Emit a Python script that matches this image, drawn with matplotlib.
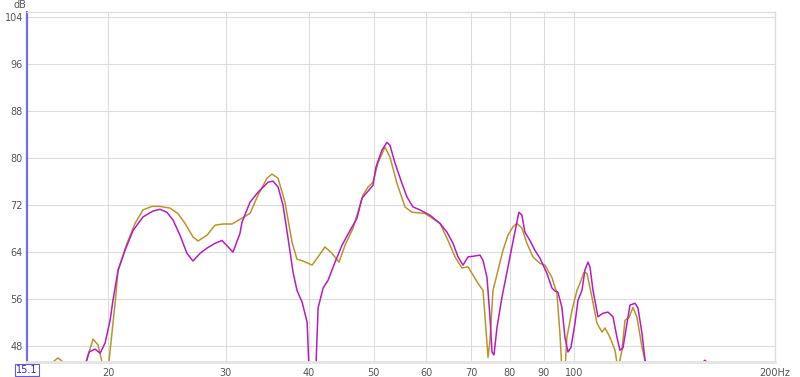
import numpy as np
import matplotlib
matplotlib.use('Agg')
import matplotlib.pyplot as plt
from matplotlib.ticker import FixedLocator, NullLocator, NullFormatter

# purple trace (freq Hz, SPL dB)
purple_f = [15.1, 18.0, 18.45, 18.71, 19.10, 19.44, 19.77, 20.12, 20.32, 20.68, 21.18,
            21.78, 22.54, 23.33, 23.90, 24.48, 25.00, 25.61, 26.24, 26.79, 27.45,
            28.12, 28.91, 29.61, 30.24, 30.76, 31.51, 31.73, 32.62, 33.53, 34.71,
            35.31, 35.94, 36.56, 37.20, 37.85, 38.37, 39.05, 39.73, 40.14, 40.83,
            41.27, 41.99, 42.71, 43.76, 44.83, 46.09, 47.21, 48.03, 49.04, 49.88,
            50.40, 51.46, 52.35, 52.90, 53.82, 55.14, 56.10,
            57.28, 58.68, 60.74, 62.88, 64.42, 65.77, 66.92, 68.08, 69.27, 70.47,
            72.20, 72.95, 73.96, 74.73, 75.25, 75.77, 76.56, 77.88, 79.24, 80.61,
            81.73, 82.58, 83.44, 84.31, 85.78, 87.28, 88.79, 90.97, 92.55, 93.51,
            94.49, 95.81, 96.81, 97.83, 98.85, 100.23, 101.27, 102.68, 103.75,
            104.83, 105.56, 106.66, 108.51, 110.40, 112.32, 114.28, 115.87, 117.08,
            118.30, 119.95, 121.20, 123.31, 124.59, 126.33, 127.65, 129.5,
            135.0, 150.0, 154.5, 157.0, 159.5, 170.0, 200.0]
purple_db = [40.0, 42.0, 44.5, 47.0, 47.5, 46.8, 48.5, 52.4, 55.8, 60.9, 64.3,
             67.7, 70.0, 71.0, 71.3, 70.8, 69.5, 66.9, 63.8, 62.5, 63.8,
             64.7, 65.5, 66.0, 64.9, 64.0, 67.2, 69.1, 72.5, 74.2, 75.9,
             76.1, 75.1, 72.0, 66.4, 60.6, 57.5, 55.5, 52.1, 40.0, 40.0,
             54.5, 57.9, 59.2, 62.3, 65.2, 67.7, 69.8, 73.2, 74.4, 75.4,
             78.5, 81.4, 82.7, 82.2, 79.2, 75.7, 73.4,
             71.7, 71.2, 70.3, 68.9, 67.4, 65.5, 63.2, 61.8, 63.2, 63.3,
             63.5, 62.6, 59.7, 52.9, 47.0, 46.5, 51.2, 56.3, 60.6, 64.9,
             68.3, 70.8, 70.3, 67.4, 66.0, 64.3, 63.0, 60.4, 57.9, 57.4,
             57.2, 54.6, 49.5, 47.0, 47.8, 51.9, 55.8, 57.5, 61.0,
             62.3, 61.5, 57.5, 53.0, 53.6, 53.8, 53.0, 49.5, 47.3,
             47.7, 51.9, 55.0, 55.3, 54.5, 50.2, 45.6, 43.0,
             40.0, 42.0, 44.8, 45.6, 44.8, 40.0, 38.0]

# gold trace
gold_f = [15.1, 16.3, 16.81, 17.3, 18.0, 18.45, 18.97, 19.30, 19.64, 19.98, 20.47,
          20.68, 21.33, 21.93, 22.54, 23.25, 23.90, 24.75, 25.43, 26.06, 26.79,
          27.26, 28.12, 28.91, 29.72, 30.66, 31.51, 32.62, 33.53, 34.59, 35.19,
          35.94, 36.81, 37.72, 38.37, 39.18, 40.42, 41.27, 42.26, 43.30, 44.36,
          45.30, 46.57, 48.19, 49.04, 49.88,
          50.76, 51.99, 52.90, 54.20, 55.72, 57.08, 59.70, 62.88, 64.64, 66.23,
          67.85, 69.27, 70.47, 71.70, 72.95, 73.46, 74.22, 74.73, 75.51, 76.82,
          78.15, 79.52, 80.89, 82.01, 83.44, 84.90, 86.68, 88.79, 90.34, 92.55,
          94.16, 95.15, 95.81, 96.81, 97.48, 99.19, 100.92, 101.97, 103.39, 104.47,
          106.29, 108.14, 110.02, 111.17, 113.10, 115.08, 116.28, 117.89, 119.12,
          120.78, 122.46, 124.16, 126.33, 127.65, 129.5, 140.0, 200.0]
gold_db = [43.0, 44.8, 46.0, 44.8, 42.0, 44.8, 49.2, 48.2, 44.5, 44.0, 55.3,
           60.9, 65.5, 68.9, 71.2, 71.8, 71.8, 71.5, 70.6, 68.9, 66.6,
           65.9, 66.9, 68.6, 68.8, 68.8, 69.6, 70.6, 73.7, 76.6, 77.3,
           76.6, 72.5, 65.7, 62.8, 62.5, 61.8, 63.2, 64.9, 63.8, 62.3,
           65.2, 68.1, 73.7, 75.1, 75.9,
           79.2, 81.9, 80.2, 75.7, 71.7, 70.8, 70.6, 68.9, 66.0, 63.2,
           61.3, 61.5, 60.1, 58.7, 57.5, 53.0, 46.1, 49.0, 57.5, 60.9,
           64.3, 66.9, 68.3, 68.9, 68.1, 65.5, 63.2, 62.1, 61.8, 59.7,
           57.0, 50.2, 44.0, 44.0, 49.5, 54.1, 57.5, 58.7, 60.6, 60.4,
           56.3, 51.9, 50.4, 51.1, 49.5, 47.3, 44.0, 47.3, 52.4,
           52.9, 54.6, 52.9, 47.8, 45.6, 43.0, 38.0, 38.0]

x_ticks = [20, 30, 40, 50, 60, 70, 80, 90, 100, 200]
x_labels = ['20', '30', '40', '50', '60', '70', '80', '90', '100', '200Hz']
y_ticks = [48, 56, 64, 72, 80, 88, 96, 104]

fig = plt.figure(figsize=(8, 3.77), dpi=100)
ax = fig.add_axes([27/800, 15/377, 748/800, 350/377])

ax.plot(gold_f, gold_db, color='#b8962a', lw=1.1)
ax.plot(purple_f, purple_db, color='#b81cc0', lw=1.1)

ax.set_xscale('log')
ax.set_xlim(15.1, 200)
ax.set_ylim(45.3, 104.9)
ax.xaxis.set_major_locator(FixedLocator(x_ticks))
ax.xaxis.set_minor_locator(NullLocator())
ax.xaxis.set_minor_formatter(NullFormatter())
ax.set_xticks(x_ticks)
ax.set_xticklabels(x_labels)
ax.set_yticks(y_ticks)
ax.grid(True, color='#dcdcdc', lw=0.8)
ax.set_axisbelow(True)
ax.tick_params(length=0, labelsize=7, colors='#555555', pad=4)
ax.tick_params(axis='y', pad=3)

for s in ['top', 'right']:
    ax.spines[s].set_color('#dddddd')
    ax.spines[s].set_linewidth(1)
ax.spines['bottom'].set_color('#e4e4e4')
ax.spines['bottom'].set_linewidth(2)
ax.spines['left'].set_color('#7070e0')
ax.spines['left'].set_linewidth(1.6)

fig.text(13/800, 1 - 5/377, 'dB', fontsize=7, color='#555555', va='center')
fig.text(27/800, 1 - 370/377, '15.1', fontsize=7, color='#3030a0', ha='center', va='center',
         bbox=dict(boxstyle='square,pad=0.15', fc='white', ec='#6060d0', lw=0.8))

fig.savefig('out.png', dpi=100)
